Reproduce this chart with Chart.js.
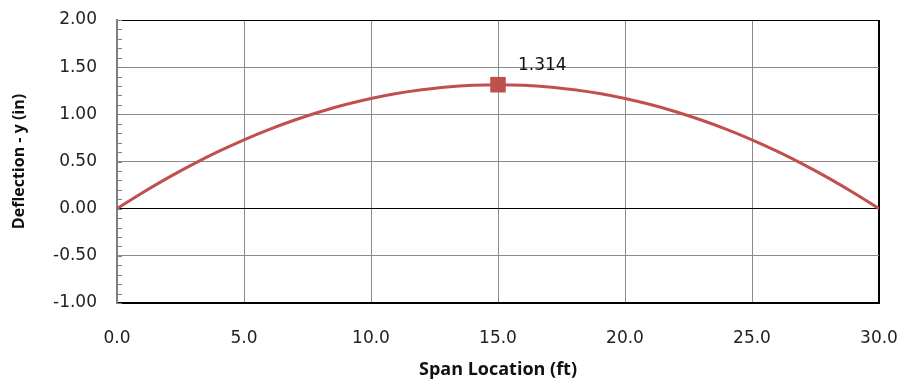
<!DOCTYPE html>
<html>
<head>
<meta charset="utf-8">
<script src="https://cdn.jsdelivr.net/npm/chart.js@4/dist/chart.umd.min.js"></script>
<style>
  html, body { margin: 0; padding: 0; background: #fff; }
  #wrap { width: 901px; height: 381px; }
</style>
</head>
<body>
<div id="wrap"><canvas id="myChart" width="901" height="381"></canvas></div>
<script>
// span location (ft) and deflection (in)
var span_ft = [0, 1, 2, 3, 4, 5, 6, 7, 8, 9, 10, 11, 12, 13, 14, 15,
               16, 17, 18, 19, 20, 21, 22, 23, 24, 25, 26, 27, 28, 29, 30];
var deflection_in = [0, 0.169, 0.327, 0.473, 0.607, 0.73, 0.841, 0.94, 1.028, 1.104, 1.168,
                     1.221, 1.261, 1.291, 1.308, 1.314, 1.308, 1.291, 1.261, 1.221, 1.168,
                     1.104, 1.028, 0.94, 0.841, 0.73, 0.607, 0.473, 0.327, 0.169, 0];
var max_index = 15;
var max_label = '1.314';

var line_color = '#C0504D';
var tick_font = { family: 'DejaVu Sans', size: 17 };

var points = span_ft.map(function (x, i) { return { x: x, y: deflection_in[i] }; });

// small ticks every 0.1 on the left axis + the max value label
var extras = {
    id: 'extras',
    afterDatasetsDraw: function (chart) {
        var c = chart.ctx;
        var ys = chart.scales.y;
        var left = chart.chartArea.left;
        c.save();
        c.strokeStyle = '#808080';
        c.lineWidth = 1;
        for (var v = -10; v <= 20; v++) {
            var py = Math.round(ys.getPixelForValue(v / 10)) + 0.5;
            c.beginPath();
            c.moveTo(left, py);
            c.lineTo(left + 5, py);
            c.stroke();
        }
        var pt = chart.getDatasetMeta(0).data[max_index];
        c.fillStyle = '#111';
        c.font = '17px "DejaVu Sans"';
        c.textAlign = 'left';
        c.textBaseline = 'middle';
        c.fillText(max_label, pt.x + 20, pt.y - 19);
        c.restore();
    }
};

var ctx = document.getElementById('myChart').getContext('2d');
var myChart = new Chart(ctx, {
    type: 'line',
    data: {
        datasets: [{
            data: points,
            borderColor: line_color,
            backgroundColor: line_color,
            borderWidth: 3,
            pointStyle: 'rect',
            pointRadius: function (c) { return c.dataIndex === max_index ? 11 : 0; },
            pointBorderWidth: 0,
            pointHoverRadius: 0,
            cubicInterpolationMode: 'monotone'
        }]
    },
    options: {
        responsive: false,
        animation: false,
        events: [],
        layout: { padding: { left: 0, top: 20, right: 22, bottom: 0 } },
        plugins: {
            legend: { display: false },
            tooltip: { enabled: false }
        },
        scales: {
            x: {
                type: 'linear',
                min: 0,
                max: 30,
                afterFit: function (s) {
                    s.height = 78;
                    s.paddingLeft = 0;
                    s.paddingRight = 0;
                },
                ticks: {
                    stepSize: 5,
                    color: '#222',
                    font: tick_font,
                    padding: 25,
                    maxRotation: 0,
                    callback: function (v) { return Number(v).toFixed(1); }
                },
                grid: {
                    drawTicks: false,
                    color: function (c) {
                        if (c.tick && c.tick.value === 30) return '#000';
                        return '#8c8c8c';
                    },
                    lineWidth: function (c) {
                        if (c.tick && c.tick.value === 30) return 2;
                        return 1;
                    }
                },
                border: { color: '#000', width: 2 },
                title: {
                    display: true,
                    text: 'Span Location (ft)',
                    color: '#111',
                    font: { family: 'Open Sans', size: 18, weight: 'bold' },
                    padding: { top: 0, bottom: 0 }
                }
            },
            y: {
                min: -1,
                max: 2,
                afterFit: function (s) {
                    s.width = 117;
                    s.paddingTop = 0;
                    s.paddingBottom = 0;
                },
                ticks: {
                    stepSize: 0.5,
                    color: '#222',
                    font: tick_font,
                    padding: 20,
                    callback: function (v) { return Number(v).toFixed(2); }
                },
                grid: {
                    drawTicks: false,
                    color: function (c) {
                        if (!c.tick) return '#8c8c8c';
                        var v = c.tick.value;
                        if (v === 0 || v === 2 || v === -1) return '#000';
                        return '#8c8c8c';
                    },
                    lineWidth: function (c) {
                        if (c.tick && c.tick.value === -1) return 2;
                        return 1;
                    }
                },
                border: { color: '#808080', width: 2 },
                title: {
                    display: true,
                    text: 'Deflection - y (in)',
                    color: '#111',
                    font: { family: 'Open Sans', size: 16, weight: 'bold' },
                    padding: { top: 10, bottom: 0 }
                }
            }
        }
    },
    plugins: [extras]
});
</script>
</body>
</html>
